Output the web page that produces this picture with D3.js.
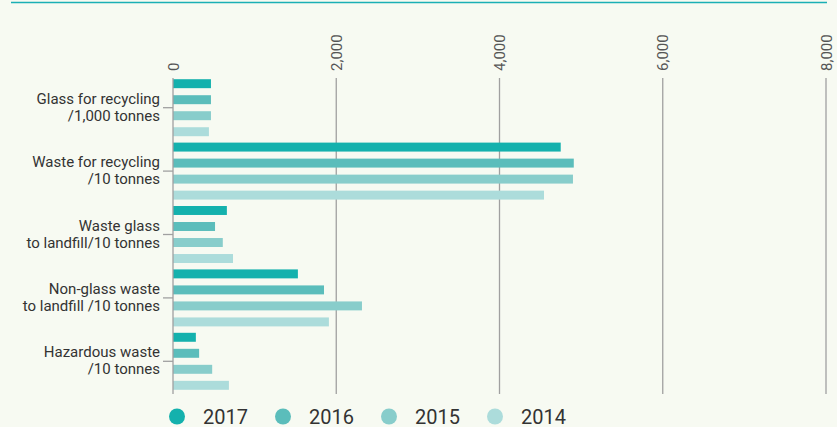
<!DOCTYPE html>
<html>
<head>
<meta charset="utf-8">
<script src="https://cdn.jsdelivr.net/npm/d3@7"></script>
<style>
  html, body { margin: 0; padding: 0; background: #f7faf2; }
  svg { display: block; font-family: "Roboto", "DejaVu Sans", sans-serif; }
</style>
</head>
<body>
<div id="container"></div>
<script>
"use strict";

// categories (two-line labels)
var categories = [
    ["Glass for recycling", "/1,000 tonnes"],
    ["Waste for recycling", "/10 tonnes"],
    ["Waste glass", "to landfill/10 tonnes"],
    ["Non-glass waste", "to landfill /10 tonnes"],
    ["Hazardous waste", "/10 tonnes"]
];

var years = ["2017", "2016", "2015", "2014"];

var values2017 = [465, 4750, 660, 1530, 280];
var values2016 = [465, 4910, 515, 1850, 320];
var values2015 = [465, 4900, 610, 2315, 480];
var values2014 = [440, 4545, 735, 1910, 685];

var tickValues = [0, 2000, 4000, 6000, 8000];

var colours = ["#14b1ad", "#5bbdbb", "#88cdcb", "#acdcdb"];

var width = 837;
var height = 427;

var series = [values2017, values2016, values2015, values2014];

var svg = d3.select("#container").append("svg")
    .attr("width", width)
    .attr("height", height);

svg.append("rect").attr("width", width).attr("height", height).style("fill", "#f7faf2");

//top rule
svg.append("line")
    .attr("x1", 11).attr("x2", 827)
    .attr("y1", 2.5).attr("y2", 2.5)
    .style("stroke", "#1aafb5").style("stroke-width", 1.5);

var x = d3.scaleLinear().domain([0, 8000]).range([173, 826]);

var y = d3.scaleBand().domain(d3.range(categories.length)).range([76, 393]).paddingInner(0).paddingOuter(0);

var yInner = d3.scaleBand().domain(years).range([0, y.bandwidth()]).paddingInner(0.44).paddingOuter(0.2);

//grid lines
svg.selectAll("line.grid").data(tickValues.slice(1)).enter().append("line")
    .attr("class", "grid")
    .attr("x1", function (d) { return x(d); })
    .attr("x2", function (d) { return x(d); })
    .attr("y1", 78).attr("y2", 394)
    .style("stroke", "#a0a0a0").style("stroke-width", 1.3);

//tick labels, rotated
svg.selectAll("text.tick").data(tickValues).enter().append("text")
    .attr("class", "tick")
    .attr("transform", function (d) { return "translate(" + (x(d) + 5.5) + ",71) rotate(-90)"; })
    .attr("text-anchor", "start")
    .style("font-size", "15px")
    .style("fill", "#555")
    .text(function (d) { return d3.format(",")(d); });

//bars
years.forEach(function (year, i) {
    svg.selectAll("rect.bar-" + year).data(series[i]).enter().append("rect")
        .attr("class", "bar-" + year)
        .attr("x", x(0))
        .attr("y", function (d, j) { return y(j) + yInner(year); })
        .attr("width", function (d) { return x(d) - x(0); })
        .attr("height", yInner.bandwidth())
        .style("fill", colours[i]);
});

//zero axis line
svg.append("line")
    .attr("x1", x(0)).attr("x2", x(0))
    .attr("y1", 78).attr("y2", 394)
    .style("stroke", "#a0a0a0").style("stroke-width", 1.3);

//category ticks and labels
var cats = svg.selectAll("g.cat").data(categories).enter().append("g")
    .attr("class", "cat")
    .attr("transform", function (d, i) { return "translate(0," + (y(i) + y.bandwidth() / 2) + ")"; });

cats.append("line")
    .attr("x1", 163).attr("x2", x(0))
    .attr("y1", 0).attr("y2", 0)
    .style("stroke", "#a0a0a0").style("stroke-width", 1.3);

cats.append("text")
    .attr("x", 160)
    .attr("text-anchor", "end")
    .style("font-size", "15px")
    .style("fill", "#333")
    .selectAll("tspan").data(function (d) { return d; }).enter().append("tspan")
    .attr("x", 160)
    .attr("y", function (d, i) { return i === 0 ? -4 : 13; })
    .text(function (d) { return d; });

//legend
var legend = svg.selectAll("g.legend").data(years).enter().append("g")
    .attr("class", "legend")
    .attr("transform", function (d, i) { return "translate(" + (177 + i * 106) + ",416.5)"; });

legend.append("circle").attr("r", 8).style("fill", function (d, i) { return colours[i]; });

legend.append("text")
    .attr("x", 26).attr("y", 7)
    .style("font-size", "20px")
    .style("fill", "#333")
    .text(function (d) { return d; });
</script>
</body>
</html>
